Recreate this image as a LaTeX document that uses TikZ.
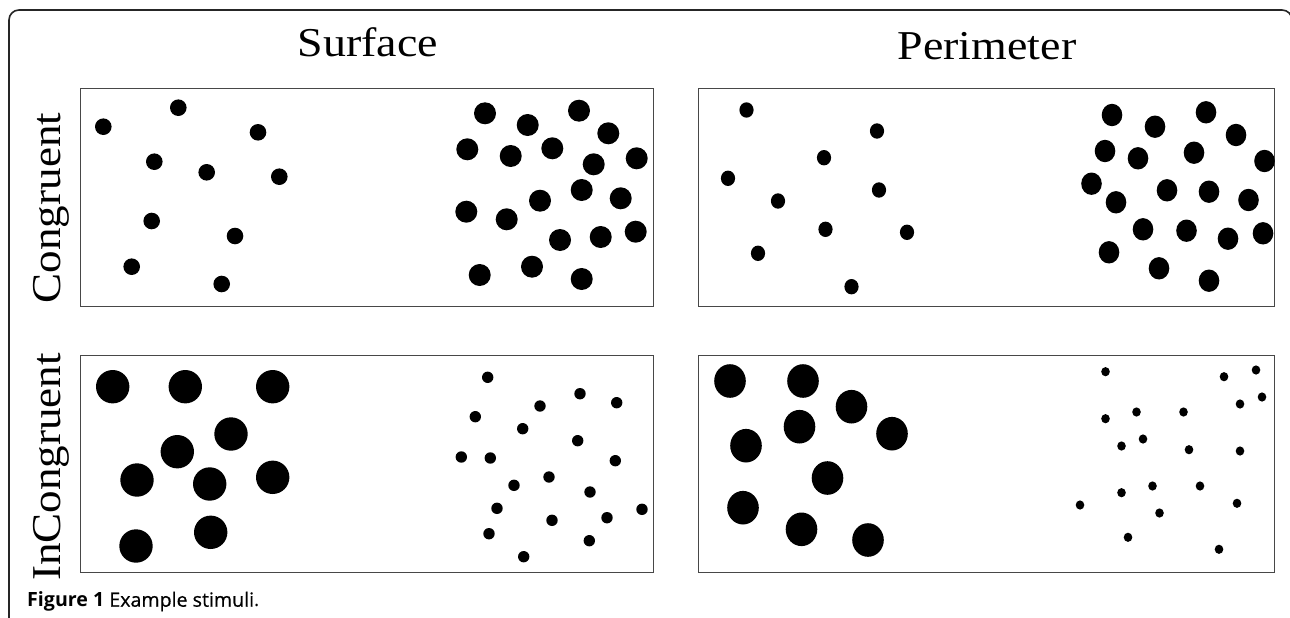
\documentclass[tikz,border=0pt]{standalone}
\usepackage{fontspec}
\setmainfont{Liberation Serif}
\newfontfamily\capfont{Open Sans}
\newfontfamily\capfontmid[FakeBold=0.6]{Open Sans}
\tikzset{
  panel/.style={draw=black!72, line width=1pt},
  frame/.style={draw=black!85, line width=1.6pt, rounded corners=10pt},
  titletext/.style={font=\fontsize{41}{41}\selectfont, inner sep=0pt, anchor=base, xscale=1.12},
  rowtext/.style={font=\fontsize{41}{41}\selectfont, inner sep=0pt, anchor=base, rotate=90, xscale=1.1},
  captext/.style={font=\capfont\fontsize{19.6}{19.6}\selectfont, inner sep=0pt, anchor=base west},
}
\newcommand{\dotset}[3]{\foreach \p in {#3} {\fill[black] \p ellipse [x radius=#1, y radius=#2];}}
\begin{document}
\begin{tikzpicture}[x=1pt,y=-1pt]
\useasboundingbox (0,0) rectangle (1290,618);
\fill[white] (0,0) rectangle (1290,618);
\begin{scope}
\clip (0,0) rectangle (1290,618);
\draw[frame] (9,10) rectangle (1292,640);
\end{scope}

% titles
\node[titletext] (surface) at (368,56.7) {Surface};
\node[titletext] (perimeter) at (987,59.5) {Perimeter};
\node[rowtext] (congruent) at (60,208) {Congruent};
\node[rowtext] (incongruent) at (60,467) {InCongruent};

% panels
\draw[panel] (80,88) rectangle (653,306);
\draw[panel] (698,88) rectangle (1274,306);
\draw[panel] (80,355) rectangle (653,572);
\draw[panel] (698,355) rectangle (1274,572);

% Surface / Congruent
\dotset{8.3}{8.3}{(103.3,126.7),(178.3,107.7),(258,132.3),(154.3,161.7),(206.7,172.3),(279.3,176.7),(151.7,221),(235,236),(131.7,266.7),(221.7,284)}
\dotset{11}{11}{(485,113.3),(527.7,125),(579,110.7),(608.3,133.3),(467.3,149.3),(510.7,156),(552.3,148.3),(593.7,164.3),(636.7,158.3),(581.7,190),(620.7,198.3),(540,200.7),(466.3,211.7),(506.7,219.3),(560,240),(600.7,237),(635.7,231.7),(479.7,275),(532,266.7),(581.7,279)}

% Perimeter / Congruent
\dotset{7.1}{7.7}{(746.5,110),(877,131),(824,157.7),(728,178.3),(778,201),(879,190),(825.5,229.3),(907,232.3),(758,253.3),(851.5,286.7)}
\dotset{10.3}{11.2}{(1112,115),(1155,126.7),(1206,112.3),(1236,135),(1105,151),(1138,158.3),(1194,152.7),(1264.5,161),(1091.5,183.7),(1116,202.3),(1167,190.3),(1209,191.7),(1248.5,200),(1143,229.3),(1186.5,230.7),(1228,238.7),(1263,233.3),(1109,252.3),(1159,268.3),(1209,280.7)}

% Surface / InCongruent
\dotset{16.7}{16.7}{(112.7,386.7),(185.3,386.7),(272.7,386.7),(231,434),(177.3,451.7),(137,480),(209.7,484),(272.7,477.3),(136,546),(210.7,532.3)}
\dotset{5.7}{5.7}{(487.7,377.3),(580,393.7),(616.7,402.7),(540,406),(475.3,416.7),(522.7,428.7),(577.7,440.7),(461.3,457),(490.3,458),(615.3,460.7),(549,477),(514,485.3),(590,492),(497,508.3),(642,509.3),(552,520.3),(607,517.7),(489,533.7),(589.3,540.7),(523.7,556.7)}

% Perimeter / InCongruent
\dotset{15.8}{16.8}{(730,381),(803,381),(851.5,406.7),(799.5,426.7),(892,433.7),(746,445.7),(827.5,478),(743,507.7),(801.5,529.3),(868,540)}
\dotset{4.3}{4.6}{(1105.5,371.7),(1224,376.7),(1256,370),(1262,397),(1240,404),(1105.5,418.7),(1136.5,412),(1183.5,412),(1121.5,446),(1143,439),(1189,449.7),(1240,451),(1152.5,486),(1200,486),(1121.5,492.7),(1080,505),(1237,503.3),(1159.5,513),(1128,537.3),(1219,549.3)}

% caption
\node[captext] (caption) at (27,606.7) {\textbf{Figure 1} {\capfontmid Example stimuli}.};
\end{tikzpicture}
\end{document}
